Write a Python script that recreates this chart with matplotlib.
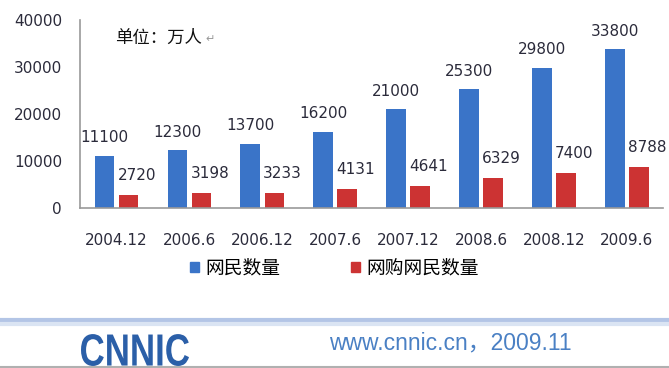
import matplotlib.pyplot as plt
from matplotlib.patches import Patch, PathPatch
from matplotlib.textpath import TextPath
from matplotlib.font_manager import FontProperties
from matplotlib.transforms import Affine2D
import numpy as np

# 数据：中国网民与网购网民规模（万人）
periods = ['2004.12', '2006.6', '2006.12', '2007.6', '2007.12', '2008.6', '2008.12', '2009.6']
netizens = [11100, 12300, 13700, 16200, 21000, 25300, 29800, 33800]
shoppers = [2720, 3198, 3233, 4131, 4641, 6329, 7400, 8788]
yticks = [0, 10000, 20000, 30000, 40000]

blue = '#3a74c8'
red = '#cc3333'
txt = '#2b2b3b'
cjk = ['Noto Sans CJK SC', 'DejaVu Sans']

fig = plt.figure(figsize=(6.69, 3.68), dpi=100)
ax = fig.add_axes([0.1196, 0.4348, 0.872, 0.5109])

x = np.arange(len(periods))
w = 0.27
b1 = ax.bar(x - 0.165, netizens, w, color=blue, zorder=2)
b2 = ax.bar(x + 0.165, shoppers, w, color=red, zorder=2)

for rect, v in zip(b1, netizens):
    ax.annotate(str(v), (rect.get_x() + rect.get_width() / 2, v),
                xytext=(0, 13), textcoords='offset points',
                ha='center', va='center', fontsize=11, color=txt)
for rect, v in zip(b2, shoppers):
    ax.annotate(str(v), (rect.get_x() + rect.get_width() / 2, v),
                xytext=(6, 14), textcoords='offset points',
                ha='center', va='center', fontsize=11, color=txt)

ax.set_xlim(-0.5, len(periods) - 0.5)
ax.set_ylim(0, 40000)
ax.set_yticks(yticks)
ax.set_yticklabels([str(t) for t in yticks], fontsize=11, color=txt)
ax.set_xticks(x)
ax.set_xticklabels(periods, fontsize=11, color=txt)
ax.tick_params(axis='y', length=0, pad=13)
ax.tick_params(axis='x', length=0, pad=18)
for s in ['top', 'right']:
    ax.spines[s].set_visible(False)
for s in ['left', 'bottom']:
    ax.spines[s].set_color('#999999')
    ax.spines[s].set_linewidth(1.2)

ax.text(0.06, 0.905, '单位：万人', transform=ax.transAxes, fontsize=12.5,
        family=cjk, color='#111111', va='center')
ax.text(0.215, 0.9, '↵', transform=ax.transAxes, fontsize=8,
        color='#999999', va='center')

handles = [Patch(color=blue), Patch(color=red)]
fig.legend(handles, ['网民数量', '网购网民数量'], loc='center',
           bbox_to_anchor=(0.500, 0.272), ncol=2, frameon=False,
           prop={'family': cjk, 'size': 13.5}, handlelength=0.45,
           handleheight=0.45, handletextpad=0.35, columnspacing=3.8)

# 底部页脚
band = fig.add_axes([0, 0, 1, 0.16])
band.set_xlim(0, 669)
band.set_ylim(368, 309)
band.axis('off')
band.axhline(319.5, color='#b3c5e6', lw=3)
band.axhline(323.5, color='#dae4f3', lw=3)
band.axhline(366.5, color='#b0b0b0', lw=1.5)

# CNNIC logo: condensed bold letters
logo = TextPath((0, 0), 'CNNIC', size=40,
                prop=FontProperties(family='Liberation Sans', weight='bold'))
bb = logo.get_extents()
tr = (Affine2D().translate(-bb.x0, -bb.y0)
      .scale(108 / bb.width, -32 / bb.height).translate(81, 366))
band.add_patch(PathPatch(tr.transform_path(logo), color='#2b5fa8', lw=0))

band.text(329, 343, 'www.cnnic.cn，2009.11', fontsize=16.5, color='#4a80c4',
          family=['Liberation Sans', 'Noto Sans CJK SC'], va='center', ha='left')

fig.savefig('out.png', dpi=100)
